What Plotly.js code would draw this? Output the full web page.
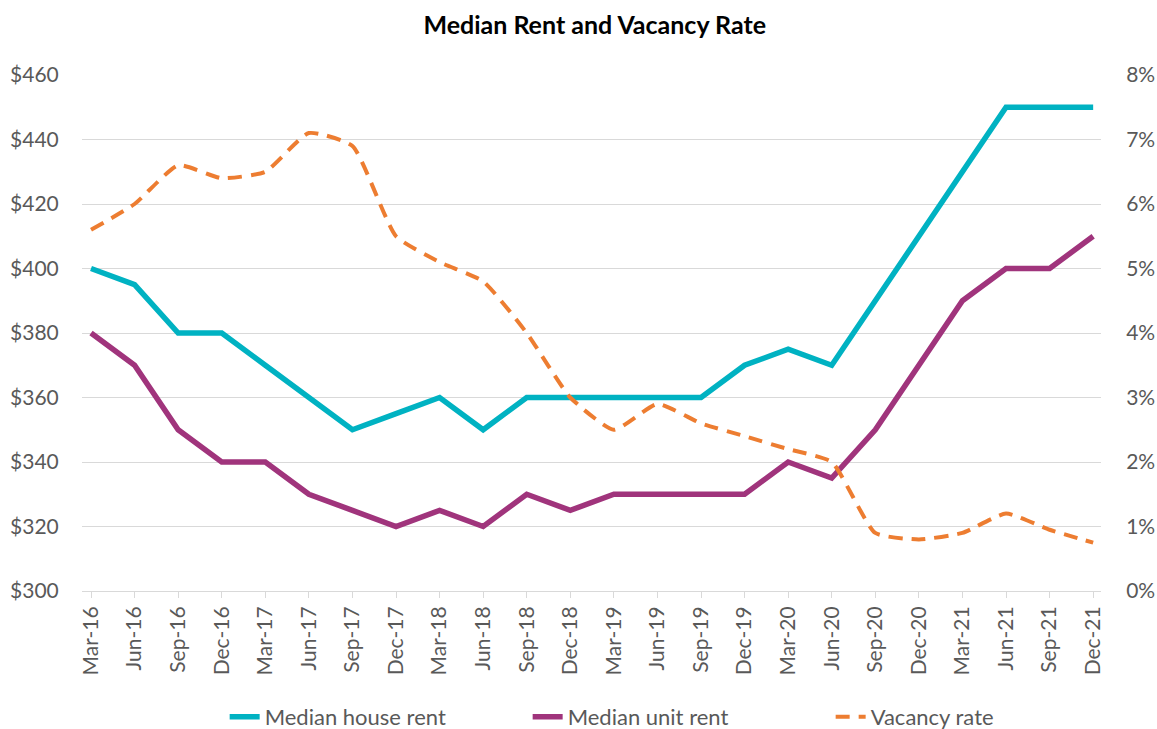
<!DOCTYPE html>
<html>
<head>
<meta charset="utf-8">
<script src="https://cdn.plot.ly/plotly-3.0.1.min.js"></script>
<style>
  html, body { margin: 0; padding: 0; background: #fff; }
  #chart { width: 1157px; height: 729px; }
</style>
</head>
<body>
<div id="chart"></div>
<script>
const categories = ['Mar-16','Jun-16','Sep-16','Dec-16','Mar-17','Jun-17','Sep-17','Dec-17',
  'Mar-18','Jun-18','Sep-18','Dec-18','Mar-19','Jun-19','Sep-19','Dec-19',
  'Mar-20','Jun-20','Sep-20','Dec-20','Mar-21','Jun-21','Sep-21','Dec-21'];
const houseRent = [400,395,380,380,370,360,350,355,360,350,360,360,360,360,360,370,375,370,390,410,430,450,450,450];
const unitRent = [380,370,350,340,340,330,325,320,325,320,330,325,330,330,330,330,340,335,350,370,390,400,400,410];
const vacancyRate = [5.6,6.0,6.6,6.4,6.5,7.1,6.9,5.5,5.1,4.8,4.0,3.0,2.5,2.9,2.6,2.4,2.2,2.0,0.9,0.8,0.9,1.2,0.95,0.75];
const leftTicks = [300,320,340,360,380,400,420,440,460];
const leftTickText = leftTicks.map(v => '$' + v);
const rightTicks = [0,1,2,3,4,5,6,7,8];
const rightTickText = rightTicks.map(v => v + '%');

const FONT = 'Lato, "Open Sans", sans-serif';
const GREY = '#595959';

const traces = [
  {
    x: categories, y: houseRent, name: 'Median house rent', type: 'scatter', mode: 'lines',
    line: { color: '#00B2C2', width: 5.5 }, yaxis: 'y', hoverinfo: 'skip'
  },
  {
    x: categories, y: unitRent, name: 'Median unit rent', type: 'scatter', mode: 'lines',
    line: { color: '#A0347C', width: 5.5 }, yaxis: 'y', hoverinfo: 'skip'
  },
  {
    x: categories, y: vacancyRate, name: 'Vacancy rate', type: 'scatter', mode: 'lines',
    line: { color: '#ED7D31', width: 4, dash: '14px,9px', shape: 'spline', smoothing: 0.5 },
    yaxis: 'y2', hoverinfo: 'skip'
  }
];

const layout = {
  width: 1157, height: 729,
  margin: { l: 82, r: 56, t: 75, b: 138, pad: 0, autoexpand: false },
  paper_bgcolor: '#ffffff', plot_bgcolor: '#ffffff',
  font: { family: FONT, color: GREY, size: 21 },
  title: {
    text: '<b>Median Rent and Vacancy Rate</b>',
    font: { family: FONT, size: 25, color: '#000000' },
    x: 0.514, xanchor: 'center', y: 0.965, yanchor: 'middle'
  },
  showlegend: true,
  legend: {
    orientation: 'h', x: 0.14, xanchor: 'left', y: -0.244, yanchor: 'middle',
    entrywidth: 258, entrywidthmode: 'pixels',
    font: { family: FONT, size: 22, color: GREY },
    bgcolor: 'rgba(0,0,0,0)'
  },
  xaxis: {
    type: 'category', range: [-0.207, 23.18],
    tickangle: -90, tickfont: { family: FONT, size: 21, color: GREY },
    showgrid: false, showline: true, linecolor: '#D9D9D9', linewidth: 1,
    ticks: 'outside', ticklen: 6, tickcolor: '#D9D9D9', tickwidth: 1,
    zeroline: false, fixedrange: true, automargin: false
  },
  yaxis: {
    range: [300, 460], tickvals: leftTicks, ticktext: leftTickText,
    tickfont: { family: FONT, size: 21, color: GREY },
    showgrid: true, gridcolor: '#D9D9D9', gridwidth: 1,
    showline: false, zeroline: false,
    ticks: 'outside', ticklen: 18, tickcolor: 'rgba(0,0,0,0)',
    fixedrange: true, automargin: false
  },
  yaxis2: {
    range: [0, 8], tickvals: rightTicks, ticktext: rightTickText,
    overlaying: 'y', side: 'right',
    tickfont: { family: FONT, size: 21, color: GREY },
    showgrid: false, showline: false, zeroline: false,
    ticks: 'outside', ticklen: 20, tickcolor: 'rgba(0,0,0,0)',
    fixedrange: true, automargin: false
  }
};

Plotly.newPlot('chart', traces, layout, { displayModeBar: false, staticPlot: true });
</script>
</body>
</html>
